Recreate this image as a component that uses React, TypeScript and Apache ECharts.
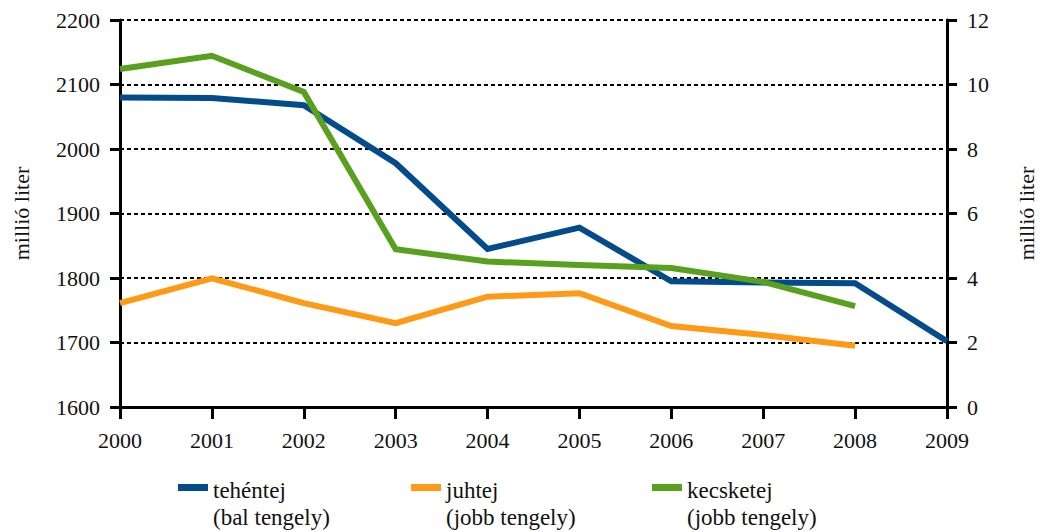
import React, { useEffect, useRef } from "react";
import * as echarts from "echarts";

const years = ["2000", "2001", "2002", "2003", "2004", "2005", "2006", "2007", "2008", "2009"];
const tehentej = [2080, 2079, 2068, 1978, 1845, 1878, 1795, 1793, 1792, 1702];
const juhtej = [3.22, 3.99, 3.22, 2.6, 3.42, 3.53, 2.51, 2.23, 1.9, null];
const kecsketej = [10.48, 10.89, 9.77, 4.89, 4.51, 4.4, 4.31, 3.88, 3.13, null];
const seriesNames = ["tehéntej", "juhtej", "kecsketej"];
const axisNotes = ["(bal tengely)", "(jobb tengely)", "(jobb tengely)"];
const colors = ["#034b8b", "#ff9a17", "#5aa01f"];
const legendLefts = [178, 411, 652];

const FONT = "Liberation Serif";
// legend swatch: a 30x7 bar at the top of a 30x40 icon box
const LEGEND_ICON = "path://M0,0L30,0L30,7L0,7Z M0,39.9L0.1,39.9L0.1,40L0,40Z";

export default function App() {
  const ref = useRef<HTMLDivElement>(null);
  useEffect(() => {
    if (!ref.current) return;
    const chart = echarts.init(ref.current, undefined, { renderer: "svg" });
    const axisLabel = {
      color: "#111",
      fontFamily: FONT,
      fontSize: 22,
      formatter: (v: number | string) => String(v),
    };
    const legends = seriesNames.map((n, i) => ({
      data: [n],
      left: legendLefts[i],
      top: 477,
      padding: 0,
      icon: LEGEND_ICON,
      itemWidth: 30,
      itemHeight: 40,
      formatter: (name: string) => `${name}\n${axisNotes[seriesNames.indexOf(name)]}`,
      textStyle: {
        fontFamily: FONT,
        fontSize: 23,
        lineHeight: 27,
        color: "#111",
      },
    }));
    chart.setOption({
      animation: false,
      backgroundColor: "#fff",
      grid: { left: 120, right: 96, top: 20, bottom: 125, outerBoundsMode: "none", containLabel: false },
      legend: legends,
      xAxis: {
        type: "category",
        data: years,
        boundaryGap: false,
        axisLine: { lineStyle: { color: "#000", width: 3 } },
        axisTick: { show: true, length: 12, lineStyle: { color: "#000", width: 3 } },
        axisLabel: { ...axisLabel, margin: 22 },
        splitLine: { show: false },
      },
      yAxis: [
        {
          type: "value",
          min: 1600,
          max: 2200,
          interval: 100,
          name: "millió liter",
          nameLocation: "middle",
          nameRotate: 90,
          nameGap: 88,
          nameTextStyle: { fontFamily: FONT, fontSize: 22, color: "#111" },
          axisLine: { show: true, lineStyle: { color: "#000", width: 3 } },
          axisTick: { show: true, length: 10, lineStyle: { color: "#000", width: 3 } },
          axisLabel: { ...axisLabel, margin: 20 },
          splitLine: { show: true, lineStyle: { color: "#000", width: 2, type: [4, 3] } },
        },
        {
          type: "value",
          min: 0,
          max: 12,
          interval: 2,
          position: "right",
          name: "millió liter",
          nameLocation: "middle",
          nameRotate: 90,
          nameGap: 68,
          nameTextStyle: { fontFamily: FONT, fontSize: 22, color: "#111" },
          axisLine: { show: true, lineStyle: { color: "#000", width: 3 } },
          axisTick: { show: true, length: 10, lineStyle: { color: "#000", width: 3 } },
          axisLabel: { ...axisLabel, margin: 20 },
          splitLine: { show: false },
        },
      ],
      series: [
        {
          name: seriesNames[0],
          type: "line",
          yAxisIndex: 0,
          data: tehentej,
          symbol: "none",
          color: colors[0],
          lineStyle: { width: 6, color: colors[0], join: "miter" },
          z: 3,
        },
        {
          name: seriesNames[1],
          type: "line",
          yAxisIndex: 1,
          data: juhtej,
          symbol: "none",
          color: colors[1],
          lineStyle: { width: 6, color: colors[1], join: "miter" },
          z: 4,
        },
        {
          name: seriesNames[2],
          type: "line",
          yAxisIndex: 1,
          data: kecsketej,
          symbol: "none",
          color: colors[2],
          lineStyle: { width: 6, color: colors[2], join: "miter" },
          z: 5,
        },
      ],
    });
    return () => chart.dispose();
  }, []);
  return <div ref={ref} style={{ width: 1043, height: 532, position: "absolute", left: 0, top: 0 }} />;
}
